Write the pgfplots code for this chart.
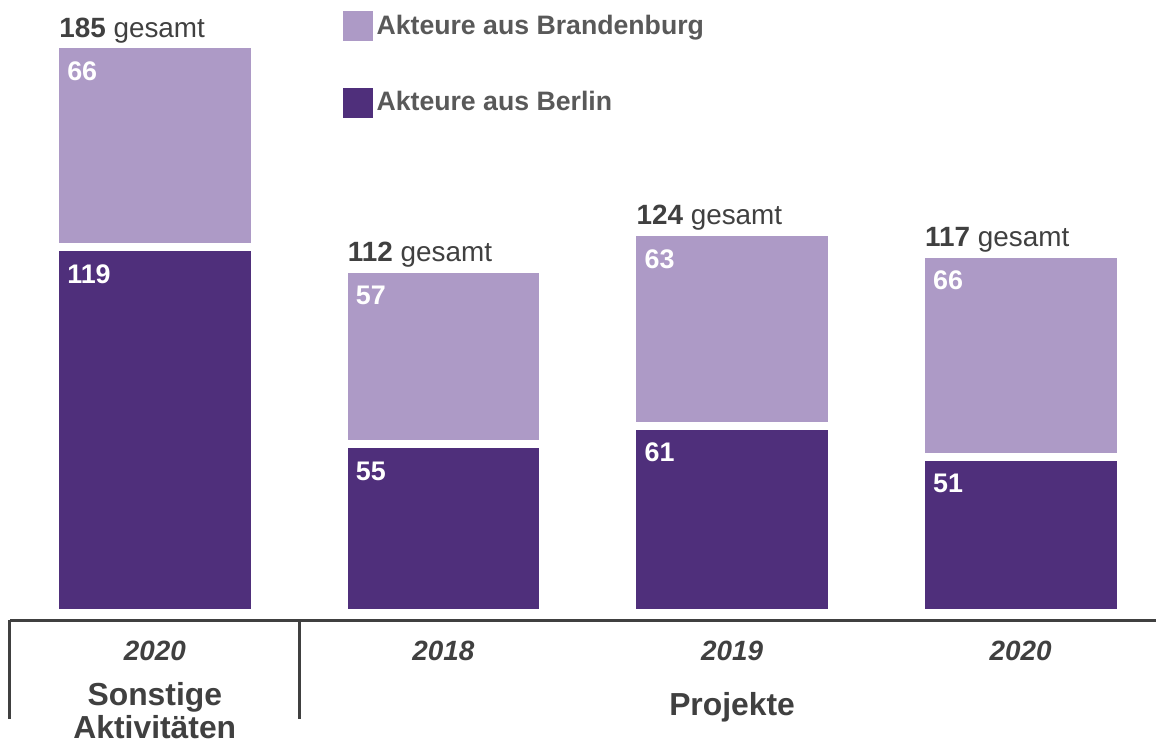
\documentclass[border=0pt]{standalone}
\usepackage{pgfplots}
\pgfplotsset{compat=1.18}
\usepackage{fontspec}
\setmainfont{Liberation Sans}

\definecolor{lila}{HTML}{AD9AC6}
\definecolor{dunkellila}{HTML}{4F2F7B}
\definecolor{txtgrau}{HTML}{404040}
\definecolor{leggrau}{HTML}{595959}

\begin{document}
\begin{tikzpicture}
\begin{axis}[
    scale only axis,
    x=144.5bp, y=1.54bp,
    xmin=-0.5363, xmax=3.467,
    ymin=-41.56, ymax=199.35,
    clip=false,
    ybar stacked,
    bar width=100bp,
    axis line style={draw=none},
    major tick length=0pt,
    ytick=\empty,
    xtick=data,
    xticklabels={2020,2018,2019,2020},
    xticklabel style={anchor=center, yshift=45bp, text=txtgrau,
        font=\bfseries\itshape\fontsize{14}{16}\selectfont},
    point meta=explicit symbolic,
    legend style={draw=none, fill=none, inner sep=0pt, outer sep=0pt,
        at={(rel axis cs:0.2965,0.985)}, anchor=north west,
        row sep=23bp, /tikz/every even column/.append style={column sep=2.5bp},
        font=\bfseries\fontsize{13.4}{15}\selectfont, text=leggrau},
    legend cell align=left,
    legend image code/.code={\fill[#1,draw=none] (0bp,-7.5bp) rectangle (15bp,7.5bp);},
    wert/.style={draw=none, fill=none,
        nodes near coords={\textbf{\pgfplotspointmeta}},
        every node near coord/.append style={anchor=north west, xshift=-44bp, yshift=-8.5bp,
            inner sep=0pt, text=white, font=\fontsize{13.5}{15}\selectfont}},
]
\addlegendimage{fill=lila}
\addlegendentry{Akteure aus Brandenburg}
\addlegendimage{fill=dunkellila}
\addlegendentry{Akteure aus Berlin}

\addplot[fill=dunkellila, draw=white, line width=4bp] coordinates {
    (0,119) (1,55) (2,61) (3,51)
};
% Hilfsreihen mit Hoehe ~0 nur fuer die Beschriftung
\addplot[wert] coordinates {
    (0,0.001) [119] (1,0.001) [55] (2,0.001) [61] (3,0.001) [51]
};
\addplot[fill=lila, draw=white, line width=4bp] coordinates {
    (0,66) (1,57) (2,63) (3,66)
};
\addplot[wert] coordinates {
    (0,0.001) [66] (1,0.001) [57] (2,0.001) [63] (3,0.001) [66]
};
% Summen oberhalb der Balken
\addplot[draw=none, fill=none,
    nodes near coords={\textbf{\pgfplotspointmeta} gesamt},
    every node near coord/.append style={anchor=base west, xshift=-48bp, yshift=3.5bp,
        inner sep=0pt, text=txtgrau, font=\fontsize{14}{16}\selectfont}] coordinates {
    (0,0.001) [185] (1,0.001) [112] (2,0.001) [124] (3,0.001) [117]
};

% untere Achse mit Trennlinien
\draw[txtgrau, line width=1.5bp] (axis cs:-0.5017,-2.27) -- (axis cs:3.467,-2.27);
\draw[txtgrau, line width=1.5bp] (axis cs:-0.5017,-2.27) -- (axis cs:-0.5017,-34.4);
\draw[txtgrau, line width=1.5bp] (axis cs:0.5017,-2.27) -- (axis cs:0.5017,-34.4);
\node[align=center, text=txtgrau, font=\bfseries\fontsize{16}{16.5}\selectfont]
    at (axis cs:0,-31.5) {Sonstige\\Aktivitäten};
\node[text=txtgrau, font=\bfseries\fontsize{16}{18}\selectfont]
    at (axis cs:2,-30.5) {Projekte};
\end{axis}
\end{tikzpicture}
\end{document}
